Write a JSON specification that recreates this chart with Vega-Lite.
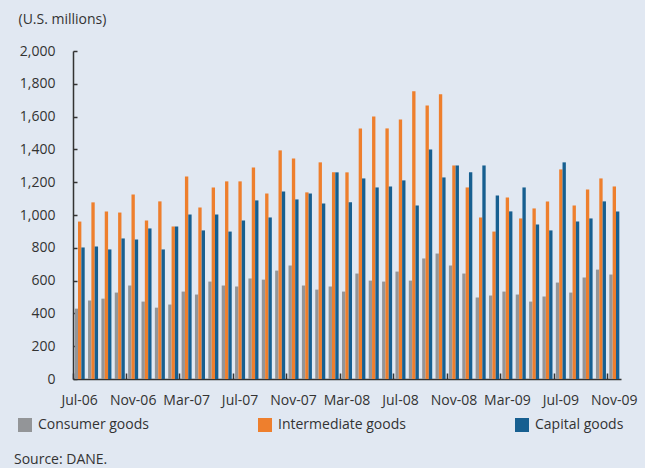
{
  "$schema": "https://vega.github.io/schema/vega-lite/v6.json",
  "width": 548,
  "height": 328,
  "autosize": "none",
  "padding": {"left": 73, "top": 51, "right": 24, "bottom": 89},
  "background": "#e1e8f2",
  "config": {
    "view": {"stroke": null},
    "font": "Open Sans",
    "axis": {"labelFont": "Open Sans", "titleFont": "Open Sans", "labelColor": "#333333", "titleColor": "#333333", "labelFontSize": 14, "domainColor": "#333333", "tickColor": "#333333", "domainWidth": 1.5, "tickWidth": 1.5, "grid": false},
    "legend": {"labelFont": "Open Sans", "labelColor": "#333333", "labelFontSize": 14}
  },
  "title": {"text": "Source: DANE.", "orient": "bottom", "anchor": "start", "frame": "group", "dx": -59, "offset": 21, "fontSize": 14, "fontWeight": "normal", "color": "#333333", "font": "Open Sans"},
  "data": {
    "values": [
      {"month":"Jul-06","type":"Consumer goods","value":429},{"month":"Jul-06","type":"Intermediate goods","value":960},{"month":"Jul-06","type":"Capital goods","value":802},
      {"month":"Aug-06","type":"Consumer goods","value":478},{"month":"Aug-06","type":"Intermediate goods","value":1077},{"month":"Aug-06","type":"Capital goods","value":808},
      {"month":"Sep-06","type":"Consumer goods","value":490},{"month":"Sep-06","type":"Intermediate goods","value":1022},{"month":"Sep-06","type":"Capital goods","value":790},
      {"month":"Oct-06","type":"Consumer goods","value":527},{"month":"Oct-06","type":"Intermediate goods","value":1015},{"month":"Oct-06","type":"Capital goods","value":857},
      {"month":"Nov-06","type":"Consumer goods","value":570},{"month":"Nov-06","type":"Intermediate goods","value":1125},{"month":"Nov-06","type":"Capital goods","value":851},
      {"month":"Dec-06","type":"Consumer goods","value":472},{"month":"Dec-06","type":"Intermediate goods","value":967},{"month":"Dec-06","type":"Capital goods","value":918},
      {"month":"Jan-07","type":"Consumer goods","value":435},{"month":"Jan-07","type":"Intermediate goods","value":1083},{"month":"Jan-07","type":"Capital goods","value":790},
      {"month":"Feb-07","type":"Consumer goods","value":454},{"month":"Feb-07","type":"Intermediate goods","value":930},{"month":"Feb-07","type":"Capital goods","value":930},
      {"month":"Mar-07","type":"Consumer goods","value":533},{"month":"Mar-07","type":"Intermediate goods","value":1235},{"month":"Mar-07","type":"Capital goods","value":1003},
      {"month":"Apr-07","type":"Consumer goods","value":515},{"month":"Apr-07","type":"Intermediate goods","value":1046},{"month":"Apr-07","type":"Capital goods","value":906},
      {"month":"May-07","type":"Consumer goods","value":594},{"month":"May-07","type":"Intermediate goods","value":1168},{"month":"May-07","type":"Capital goods","value":1003},
      {"month":"Jun-07","type":"Consumer goods","value":570},{"month":"Jun-07","type":"Intermediate goods","value":1205},{"month":"Jun-07","type":"Capital goods","value":899},
      {"month":"Jul-07","type":"Consumer goods","value":564},{"month":"Jul-07","type":"Intermediate goods","value":1205},{"month":"Jul-07","type":"Capital goods","value":967},
      {"month":"Aug-07","type":"Consumer goods","value":613},{"month":"Aug-07","type":"Intermediate goods","value":1290},{"month":"Aug-07","type":"Capital goods","value":1089},
      {"month":"Sep-07","type":"Consumer goods","value":606},{"month":"Sep-07","type":"Intermediate goods","value":1131},{"month":"Sep-07","type":"Capital goods","value":985},
      {"month":"Oct-07","type":"Consumer goods","value":661},{"month":"Oct-07","type":"Intermediate goods","value":1394},{"month":"Oct-07","type":"Capital goods","value":1144},
      {"month":"Nov-07","type":"Consumer goods","value":692},{"month":"Nov-07","type":"Intermediate goods","value":1345},{"month":"Nov-07","type":"Capital goods","value":1095},
      {"month":"Dec-07","type":"Consumer goods","value":570},{"month":"Dec-07","type":"Intermediate goods","value":1138},{"month":"Dec-07","type":"Capital goods","value":1131},
      {"month":"Jan-08","type":"Consumer goods","value":545},{"month":"Jan-08","type":"Intermediate goods","value":1321},{"month":"Jan-08","type":"Capital goods","value":1070},
      {"month":"Feb-08","type":"Consumer goods","value":564},{"month":"Feb-08","type":"Intermediate goods","value":1260},{"month":"Feb-08","type":"Capital goods","value":1260},
      {"month":"Mar-08","type":"Consumer goods","value":533},{"month":"Mar-08","type":"Intermediate goods","value":1260},{"month":"Mar-08","type":"Capital goods","value":1077},
      {"month":"Apr-08","type":"Consumer goods","value":643},{"month":"Apr-08","type":"Intermediate goods","value":1528},{"month":"Apr-08","type":"Capital goods","value":1223},
      {"month":"May-08","type":"Consumer goods","value":600},{"month":"May-08","type":"Intermediate goods","value":1601},{"month":"May-08","type":"Capital goods","value":1168},
      {"month":"Jun-08","type":"Consumer goods","value":594},{"month":"Jun-08","type":"Intermediate goods","value":1528},{"month":"Jun-08","type":"Capital goods","value":1174},
      {"month":"Jul-08","type":"Consumer goods","value":655},{"month":"Jul-08","type":"Intermediate goods","value":1583},{"month":"Jul-08","type":"Capital goods","value":1211},
      {"month":"Aug-08","type":"Consumer goods","value":600},{"month":"Aug-08","type":"Intermediate goods","value":1754},{"month":"Aug-08","type":"Capital goods","value":1058},
      {"month":"Sep-08","type":"Consumer goods","value":735},{"month":"Sep-08","type":"Intermediate goods","value":1668},{"month":"Sep-08","type":"Capital goods","value":1400},
      {"month":"Oct-08","type":"Consumer goods","value":765},{"month":"Oct-08","type":"Intermediate goods","value":1736},{"month":"Oct-08","type":"Capital goods","value":1229},
      {"month":"Nov-08","type":"Consumer goods","value":692},{"month":"Nov-08","type":"Intermediate goods","value":1302},{"month":"Nov-08","type":"Capital goods","value":1302},
      {"month":"Dec-08","type":"Consumer goods","value":643},{"month":"Dec-08","type":"Intermediate goods","value":1168},{"month":"Dec-08","type":"Capital goods","value":1260},
      {"month":"Jan-09","type":"Consumer goods","value":497},{"month":"Jan-09","type":"Intermediate goods","value":985},{"month":"Jan-09","type":"Capital goods","value":1302},
      {"month":"Feb-09","type":"Consumer goods","value":509},{"month":"Feb-09","type":"Intermediate goods","value":899},{"month":"Feb-09","type":"Capital goods","value":1119},
      {"month":"Mar-09","type":"Consumer goods","value":533},{"month":"Mar-09","type":"Intermediate goods","value":1107},{"month":"Mar-09","type":"Capital goods","value":1022},
      {"month":"Apr-09","type":"Consumer goods","value":515},{"month":"Apr-09","type":"Intermediate goods","value":979},{"month":"Apr-09","type":"Capital goods","value":1168},
      {"month":"May-09","type":"Consumer goods","value":472},{"month":"May-09","type":"Intermediate goods","value":1040},{"month":"May-09","type":"Capital goods","value":942},
      {"month":"Jun-09","type":"Consumer goods","value":503},{"month":"Jun-09","type":"Intermediate goods","value":1083},{"month":"Jun-09","type":"Capital goods","value":906},
      {"month":"Jul-09","type":"Consumer goods","value":588},{"month":"Jul-09","type":"Intermediate goods","value":1278},{"month":"Jul-09","type":"Capital goods","value":1321},
      {"month":"Aug-09","type":"Consumer goods","value":527},{"month":"Aug-09","type":"Intermediate goods","value":1058},{"month":"Aug-09","type":"Capital goods","value":961},
      {"month":"Sep-09","type":"Consumer goods","value":619},{"month":"Sep-09","type":"Intermediate goods","value":1156},{"month":"Sep-09","type":"Capital goods","value":979},
      {"month":"Oct-09","type":"Consumer goods","value":667},{"month":"Oct-09","type":"Intermediate goods","value":1223},{"month":"Oct-09","type":"Capital goods","value":1083},
      {"month":"Nov-09","type":"Consumer goods","value":637},{"month":"Nov-09","type":"Intermediate goods","value":1174},{"month":"Nov-09","type":"Capital goods","value":1022}
    ]
  },
  "mark": {"type": "bar"},
  "encoding": {
    "x": {
      "field": "month", "type": "nominal", "sort": null,
      "scale": {"paddingInner": 0, "paddingOuter": 0},
      "axis": {
        "title": null, "labelAngle": 0, "bandPosition": 0,
        "values": ["Jul-06","Nov-06","Mar-07","Jul-07","Nov-07","Mar-08","Jul-08","Nov-08","Mar-09","Jul-09","Nov-09"],
        "tickSize": -6, "labelPadding": 20, "labelFontSize": 14
      }
    },
    "xOffset": {
      "field": "type", "type": "nominal",
      "sort": ["Consumer goods", "Intermediate goods", "Capital goods"],
      "scale": {"paddingInner": 0, "paddingOuter": 0.5}
    },
    "y": {
      "field": "value", "type": "quantitative",
      "scale": {"domain": [0, 2000]},
      "axis": {
        "title": "(U.S. millions)", "titleAngle": 0, "titleAlign": "left", "titleBaseline": "middle",
        "titleX": -55, "titleY": -32, "titleFontSize": 14, "titleFontWeight": "normal",
        "values": [0,200,400,600,800,1000,1200,1400,1600,1800,2000],
        "format": ",d", "tickSize": -4, "labelPadding": 22
      }
    },
    "color": {
      "field": "type", "type": "nominal",
      "sort": ["Consumer goods", "Intermediate goods", "Capital goods"],
      "scale": {"domain": ["Consumer goods", "Intermediate goods", "Capital goods"], "range": ["#939598", "#ee7f2d", "#175f90"]},
      "legend": {
        "title": null, "orient": "none", "direction": "horizontal", "columns": 3,
        "legendX": -55, "legendY": 367, "symbolType": "square", "symbolSize": 196,
        "symbolStrokeWidth": 0, "symbolOpacity": 1, "labelFontSize": 14, "labelOffset": 6,
        "gridAlign": "none", "columnPadding": 109, "labelLimit": 200
      }
    }
  }
}
